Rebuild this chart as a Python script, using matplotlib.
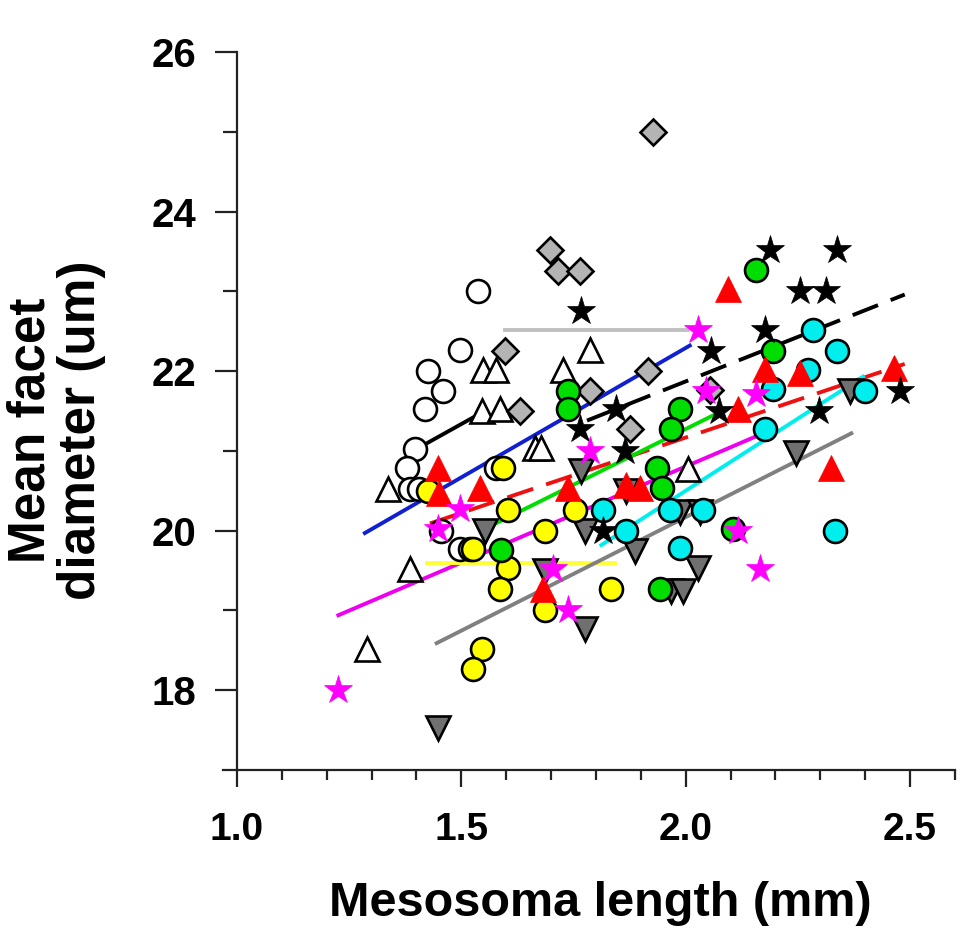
import matplotlib
matplotlib.use("Agg")
import matplotlib.pyplot as plt
from matplotlib.ticker import FixedLocator

plt.rcParams['font.family'] = ['Liberation Sans', 'DejaVu Sans']
plt.rcParams['font.weight'] = 'bold'

# ---------------- data ----------------
open_circ_x = [1.537, 1.497, 1.426, 1.459, 1.419, 1.396, 1.378, 1.385, 1.405, 1.578, 1.497, 1.52, 1.455]
open_circ_y = [23.01, 22.27, 22.00, 21.75, 21.52, 21.02, 20.78, 20.52, 20.52, 20.78, 19.77, 19.77, 20.00]

open_tri_x = [1.549, 1.578, 1.545, 1.586, 1.337, 1.385, 1.289, 1.664, 1.678, 1.786, 1.727, 2.005]
open_tri_y = [22.02, 22.02, 21.50, 21.52, 20.52, 19.52, 18.52, 21.04, 21.04, 22.27, 22.02, 20.77]

diam_x = [1.597, 1.630, 1.697, 1.716, 1.764, 1.786, 1.875, 1.916, 2.053, 1.927]
diam_y = [22.25, 21.50, 23.52, 23.25, 23.25, 21.75, 21.27, 22.00, 21.76, 25.00]

bstar_x = [1.767, 2.057, 1.845, 1.764, 2.075, 1.864, 1.815, 2.187, 2.336, 2.254, 2.313, 2.176, 2.477, 2.298]
bstar_y = [22.75, 22.25, 21.52, 21.27, 21.50, 21.00, 20.00, 23.52, 23.52, 23.00, 23.00, 22.52, 21.75, 21.50]

mstar_x = [1.226, 1.497, 1.449, 2.027, 2.046, 1.786, 1.705, 1.738, 2.116, 2.165, 2.157]
mstar_y = [18.00, 20.27, 20.02, 22.52, 21.75, 21.00, 19.52, 19.00, 19.99, 19.52, 21.71]

rtri_x = [1.449, 1.450, 1.541, 1.738, 1.898, 1.868, 1.682, 2.094, 2.176, 2.254, 2.465, 2.116, 2.324]
rtri_y = [20.78, 20.47, 20.53, 20.53, 20.53, 20.57, 19.27, 23.03, 22.03, 21.98, 22.04, 21.52, 20.78]

green_x = [1.738, 1.738, 1.987, 1.968, 1.935, 1.946, 1.942, 2.105, 1.589, 2.157, 2.194]
green_y = [21.75, 21.52, 21.52, 21.27, 20.78, 20.53, 19.27, 20.02, 19.76, 23.27, 22.25]

yellow_x = [1.593, 1.426, 1.604, 1.527, 1.604, 1.586, 1.545, 1.527, 1.753, 1.686, 1.834, 1.686]
yellow_y = [20.78, 20.50, 20.26, 19.77, 19.53, 19.27, 18.52, 18.27, 20.26, 20.00, 19.27, 19.00]

cyan_x = [1.815, 1.868, 1.964, 1.987, 2.039, 2.283, 2.336, 2.272, 2.194, 2.399, 2.176, 2.332]
cyan_y = [20.26, 20.00, 20.26, 19.78, 20.26, 22.52, 22.25, 22.02, 21.77, 21.75, 21.27, 20.00]

itri_x = [1.552, 1.448, 1.767, 1.868, 1.775, 1.886, 1.987, 2.031, 2.027, 1.968, 1.994, 1.686, 1.775, 2.365, 2.246]
itri_y = [20.00, 17.53, 20.75, 20.50, 20.00, 19.75, 20.23, 20.23, 19.53, 19.25, 19.25, 19.50, 18.77, 21.75, 20.97]

# fitted lines (endpoints)
black_line_x = [1.415, 1.533, 1.615]
black_line_y = [21.07, 21.44, 21.44]
lgray_line_x = [1.597, 2.004]
lgray_line_y = [22.52, 22.52]
blue_line_x = [1.285, 2.009]
blue_line_y = [19.97, 22.32]
bdash_line_x = [1.780, 2.488]
bdash_line_y = [21.38, 22.96]
rdash_line_x = [1.430, 2.488]
rdash_line_y = [20.09, 22.09]
green_line_x = [1.580, 2.070]
green_line_y = [20.10, 21.47]
mag_line_x = [1.226, 2.160]
mag_line_y = [18.94, 21.19]
cyan_line_x = [1.812, 2.395]
cyan_line_y = [19.82, 21.93]
yellow_line_x = [1.423, 1.842]
yellow_line_y = [19.60, 19.60]
gray_line_x = [1.445, 2.369]
gray_line_y = [18.59, 21.22]

# ---------------- figure ----------------
fig = plt.figure(figsize=(9.6, 9.34), dpi=100)
ax = fig.add_axes([223.5/960, 164/934, (955-223.5)/960, (770-52)/934])

lw = 2.8
dash = (0, (7, 3.5))
ax.plot(black_line_x, black_line_y, color='black', lw=lw, zorder=2)
ax.plot(lgray_line_x, lgray_line_y, color='#c0c0c0', lw=lw, zorder=2)
ax.plot(blue_line_x, blue_line_y, color='#1020d0', lw=lw, zorder=2)
ax.plot(bdash_line_x, bdash_line_y, color='black', lw=lw, ls=dash, zorder=2)
ax.plot(rdash_line_x, rdash_line_y, color='#ee1111', lw=lw, ls=dash, zorder=2)
ax.plot(green_line_x, green_line_y, color='#00dd00', lw=lw, zorder=2)
ax.plot(mag_line_x, mag_line_y, color='#ee00ee', lw=lw, zorder=2)
ax.plot(cyan_line_x, cyan_line_y, color='#00eeee', lw=lw, zorder=2)
ax.plot(yellow_line_x, yellow_line_y, color='#ffff33', lw=lw, zorder=2)
ax.plot(gray_line_x, gray_line_y, color='#808080', lw=lw, zorder=2)

ms = 16.5
mew = 1.9
kw = dict(ls='none', clip_on=False, zorder=3)
ax.plot(open_circ_x, open_circ_y, marker='o', ms=ms, mfc='white', mec='black', mew=mew, **kw)
ax.plot(open_tri_x, open_tri_y, marker='^', ms=ms+0.5, mfc='white', mec='black', mew=mew, **kw)
ax.plot(diam_x, diam_y, marker='D', ms=13, mfc='#b4b4b4', mec='black', mew=mew, **kw)
ax.plot(itri_x, itri_y, marker='v', ms=ms+0.5, mfc='#707070', mec='black', mew=mew, **kw)
ax.plot(yellow_x, yellow_y, marker='o', ms=ms, mfc='#ffff00', mec='black', mew=mew, **kw)
ax.plot(green_x, green_y, marker='o', ms=ms, mfc='#00dd00', mec='black', mew=mew, **kw)
ax.plot(cyan_x, cyan_y, marker='o', ms=ms, mfc='#00eeee', mec='black', mew=mew, **kw)
ax.plot(rtri_x, rtri_y, marker='^', ms=ms+2, mfc='#ff0000', mec='#ff0000', mew=0.5, **kw)
ax.plot(bstar_x, bstar_y, marker='*', ms=21, mfc='black', mec='black', mew=0.5, **kw)
ax.plot(mstar_x, mstar_y, marker='*', ms=21, mfc='#ff00ff', mec='#ff00ff', mew=0.5, **kw)

ax.set_xlim(0.97, 2.6)
ax.set_ylim(17, 26)
ax.spines['top'].set_visible(False)
ax.spines['right'].set_visible(False)
ax.spines['left'].set_position(('data', 1.0))
for s in ['left', 'bottom']:
    ax.spines[s].set_linewidth(1.6)
    ax.spines[s].set_color('#222222')

ax.xaxis.set_major_locator(FixedLocator([1.0, 1.5, 2.0, 2.5]))
ax.xaxis.set_minor_locator(FixedLocator([1.1, 1.2, 1.3, 1.4, 1.6, 1.7, 1.8, 1.9, 2.1, 2.2, 2.3, 2.4, 2.6]))
ax.yaxis.set_major_locator(FixedLocator([18, 20, 22, 24, 26]))
ax.yaxis.set_minor_locator(FixedLocator([19, 21, 23, 25]))
ax.set_xticklabels(['1.0', '1.5', '2.0', '2.5'])
ax.set_yticklabels(['18', '20', '22', '24', '26'])

ax.tick_params(axis='x', which='major', direction='out', length=12, width=1.6, pad=18,
               labelsize=28, color='#222222')
ax.tick_params(axis='x', which='minor', direction='out', length=7, width=1.6, color='#222222')
ax.tick_params(axis='y', which='major', direction='out', length=16, width=1.6, pad=13,
               labelsize=29, color='#222222')
ax.tick_params(axis='y', which='minor', direction='out', length=10, width=1.6, color='#222222')
for lab in ax.get_xticklabels() + ax.get_yticklabels():
    lab.set_fontweight('bold')

fig.text(600/960, 1 - 903/934, 'Mesosoma length (mm)', ha='center', va='center',
         fontsize=35, fontweight='bold')
fig.text(56/960, 1 - 430/934, 'Mean facet\ndiameter (um)', ha='center', va='center',
         rotation=90, fontsize=37, fontweight='bold', multialignment='center', linespacing=1.05)

fig.savefig('out.png', dpi=100)
